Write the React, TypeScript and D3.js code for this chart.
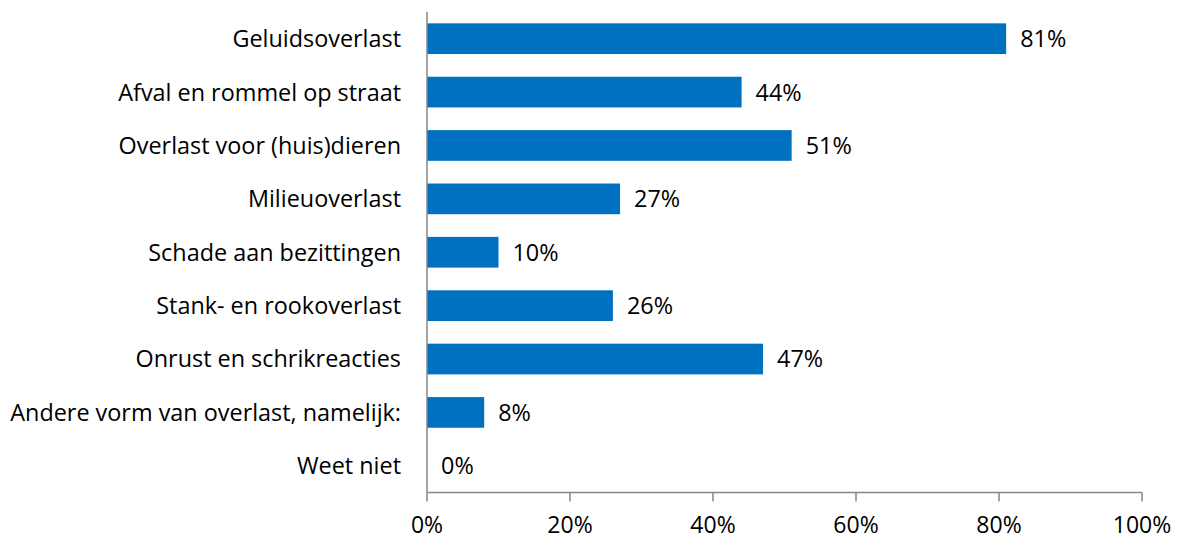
import React from "react";
import * as d3 from "d3";

const categories = [
  "Geluidsoverlast",
  "Afval en rommel op straat",
  "Overlast voor (huis)dieren",
  "Milieuoverlast",
  "Schade aan bezittingen",
  "Stank- en rookoverlast",
  "Onrust en schrikreacties",
  "Andere vorm van overlast, namelijk:",
  "Weet niet",
];
const values = [81, 44, 51, 27, 10, 26, 47, 8, 0];
const ticks = [0, 20, 40, 60, 80, 100];

const W = 1180;
const H = 539;
const left = 427;
const right = 1142;
const top = 12;
const bottom = 492.5;
const font = "'Open Sans', sans-serif";
const fs = 23.4;

export default function App() {
  const x = d3.scaleLinear().domain([0, 100]).range([left, right]);
  const y = d3
    .scaleBand<string>()
    .domain(categories)
    .range([top, bottom])
    .paddingInner(0.425)
    .paddingOuter(0.2125);
  const bw = y.bandwidth();
  return (
    <svg
      width={W}
      height={H}
      style={{ position: "absolute", left: 0, top: 0, background: "#fff" }}
    >
      {categories.map((c, i) => {
        const yy = y(c)!;
        return (
          <g key={c}>
            <rect x={x(0)} y={yy} width={x(values[i]) - x(0)} height={bw} fill="#0070C0" />
            <text
              x={x(values[i]) + 14}
              y={yy + bw / 2}
              dy="0.36em"
              fontFamily={font}
              fontSize={fs}
              fill="#000"
            >
              {values[i]}%
            </text>
            <text
              x={left - 26}
              y={yy + bw / 2}
              dy="0.36em"
              textAnchor="end"
              fontFamily={font}
              fontSize={fs}
              fill="#000"
            >
              {c}
            </text>
          </g>
        );
      })}
      <line x1={left} x2={left} y1={top} y2={bottom} stroke="#868686" strokeWidth={1.5} />
      <line x1={left} x2={right} y1={bottom} y2={bottom} stroke="#868686" strokeWidth={1.5} />
      {ticks.map((t) => (
        <g key={t}>
          <line x1={x(t)} x2={x(t)} y1={bottom} y2={bottom + 9} stroke="#868686" strokeWidth={1.5} />
          <text
            x={x(t)}
            y={533}
            textAnchor="middle"
            fontFamily={font}
            fontSize={23}
            fill="#000"
          >
            {t}%
          </text>
        </g>
      ))}
    </svg>
  );
}
